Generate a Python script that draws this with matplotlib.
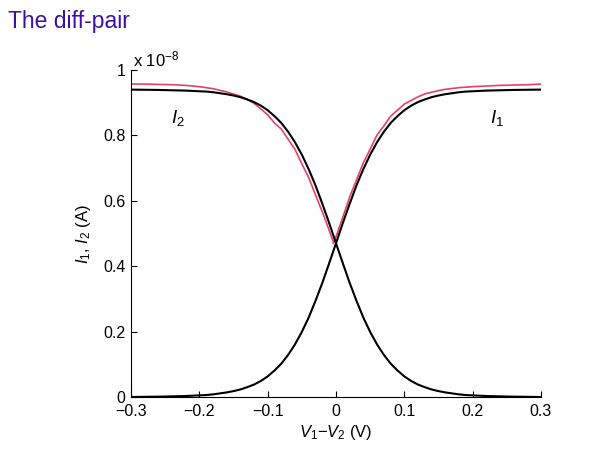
import matplotlib
matplotlib.use("Agg")
import matplotlib.pyplot as plt

plt.rcParams['font.family'] = 'Liberation Sans'
plt.rcParams['mathtext.fontset'] = 'custom'
plt.rcParams['mathtext.rm'] = 'Liberation Sans'
plt.rcParams['mathtext.it'] = 'Liberation Sans:italic'

# theory curves (units of 1e-8 A)
v_th = [-0.30, -0.28, -0.26, -0.24, -0.22, -0.20, -0.19, -0.18, -0.17, -0.16,
        -0.15, -0.14, -0.13, -0.12, -0.11, -0.10, -0.09, -0.08, -0.07, -0.06,
        -0.05, -0.04, -0.03, -0.02, -0.01, 0.00, 0.01, 0.02, 0.03, 0.04,
        0.05, 0.06, 0.07, 0.08, 0.09, 0.10, 0.11, 0.12, 0.13, 0.14,
        0.15, 0.16, 0.17, 0.18, 0.19, 0.20, 0.22, 0.24, 0.26, 0.28, 0.30]
i1_th = [0.000, 0.0005, 0.001, 0.002, 0.003, 0.005, 0.006, 0.008, 0.011, 0.014,
         0.018, 0.023, 0.030, 0.038, 0.049, 0.063, 0.081, 0.102, 0.129, 0.161,
         0.199, 0.243, 0.294, 0.349, 0.409, 0.470, 0.532, 0.591, 0.647, 0.697,
         0.741, 0.779, 0.811, 0.838, 0.859, 0.877, 0.891, 0.902, 0.910, 0.917,
         0.922, 0.926, 0.929, 0.932, 0.934, 0.935, 0.937, 0.938, 0.939, 0.9395, 0.940]
i2_th = [0.940, 0.9395, 0.939, 0.938, 0.937, 0.935, 0.934, 0.932, 0.929, 0.926,
         0.922, 0.917, 0.910, 0.902, 0.891, 0.877, 0.859, 0.838, 0.811, 0.779,
         0.741, 0.697, 0.647, 0.591, 0.532, 0.470, 0.409, 0.349, 0.294, 0.243,
         0.199, 0.161, 0.129, 0.102, 0.081, 0.063, 0.049, 0.038, 0.030, 0.023,
         0.018, 0.014, 0.011, 0.008, 0.006, 0.005, 0.003, 0.002, 0.001, 0.0005, 0.000]

# measured curves
v_m1 = [-0.004, 0.00, 0.01, 0.02, 0.03, 0.04, 0.05, 0.06, 0.07, 0.08, 0.09,
        0.10, 0.11, 0.12, 0.13, 0.14, 0.15, 0.16, 0.18, 0.20, 0.22, 0.24,
        0.26, 0.28, 0.30, 0.313]
i1_m = [0.470, 0.490, 0.550, 0.612, 0.664, 0.716, 0.758, 0.801, 0.829, 0.859, 0.877,
        0.896, 0.907, 0.918, 0.927, 0.932, 0.937, 0.941, 0.946, 0.949, 0.951, 0.953,
        0.954, 0.955, 0.957, 0.960]
v_m2 = [-0.305, -0.28, -0.26, -0.24, -0.22, -0.20, -0.18, -0.16, -0.14, -0.13,
        -0.12, -0.11, -0.10, -0.09, -0.08, -0.07, -0.06, -0.05, -0.04, -0.03,
        -0.02, -0.01, -0.004]
i2_m = [0.957, 0.957, 0.956, 0.955, 0.953, 0.949, 0.943, 0.933, 0.920, 0.910,
        0.898, 0.881, 0.863, 0.838, 0.819, 0.788, 0.757, 0.713, 0.671, 0.618,
        0.566, 0.510, 0.475]

xticks = [-0.3, -0.2, -0.1, 0, 0.1, 0.2, 0.3]
xticklabels = ['\u22120.3', '\u22120.2', '\u22120.1', '0', '0.1', '0.2', '0.3']
yticks = [0, 0.2, 0.4, 0.6, 0.8, 1]
yticklabels = ['0', '0.2', '0.4', '0.6', '0.8', '1']

fig = plt.figure(figsize=(6.01, 4.5), dpi=100)
ax = fig.add_axes([131 / 601, 1 - 397 / 450, 410 / 601, 327 / 450])

ax.plot(v_m1, i1_m, color='#e8406a', linewidth=1.2)
ax.plot(v_m2, i2_m, color='#e8406a', linewidth=1.2)
ax.plot(v_th, i1_th, color='black', linewidth=1.5)
ax.plot(v_th, i2_th, color='black', linewidth=1.5)

ax.set_xlim(-0.3, 0.3)
ax.set_ylim(0, 1)
ax.set_xticks(xticks)
ax.set_xticklabels(xticklabels)
ax.set_yticks(yticks)
ax.set_yticklabels(yticklabels)
ax.tick_params(direction='in', length=4, width=0.8, labelsize=11.5)
ax.tick_params(axis='x', pad=5)
ax.tick_params(axis='y', pad=4)
ax.spines['top'].set_visible(False)
ax.spines['right'].set_visible(False)
ax.spines['left'].set_linewidth(0.8)
ax.spines['bottom'].set_linewidth(0.8)

ax.text(-0.231, 0.853, '$\\mathit{I}_{\\mathit{2}}$', fontsize=13.5, ha='center', va='center')
ax.text(0.236, 0.853, '$\\mathit{I}_{\\mathit{1}}$', fontsize=13.5, ha='center', va='center')

ax.set_xlabel('$\\mathit{V}_{\\mathit{1}}$\u2212$\\mathit{V}_{\\mathit{2}}$ (V)', fontsize=12, labelpad=3)
ax.set_ylabel('$\\mathit{I}_{\\mathit{1}}$, $\\mathit{I}_{\\mathit{2}}$ (A)', fontsize=12, labelpad=7)

fig.text(133 / 601, 1 - 66 / 450, 'x 10$^{\u22128}$', fontsize=12, ha='left', va='baseline')
fig.text(8 / 601, 1 - 28 / 450, 'The diff-pair', fontsize=16.5, color='#3a10a8', ha='left', va='baseline')

fig.savefig('out.png', dpi=100)
